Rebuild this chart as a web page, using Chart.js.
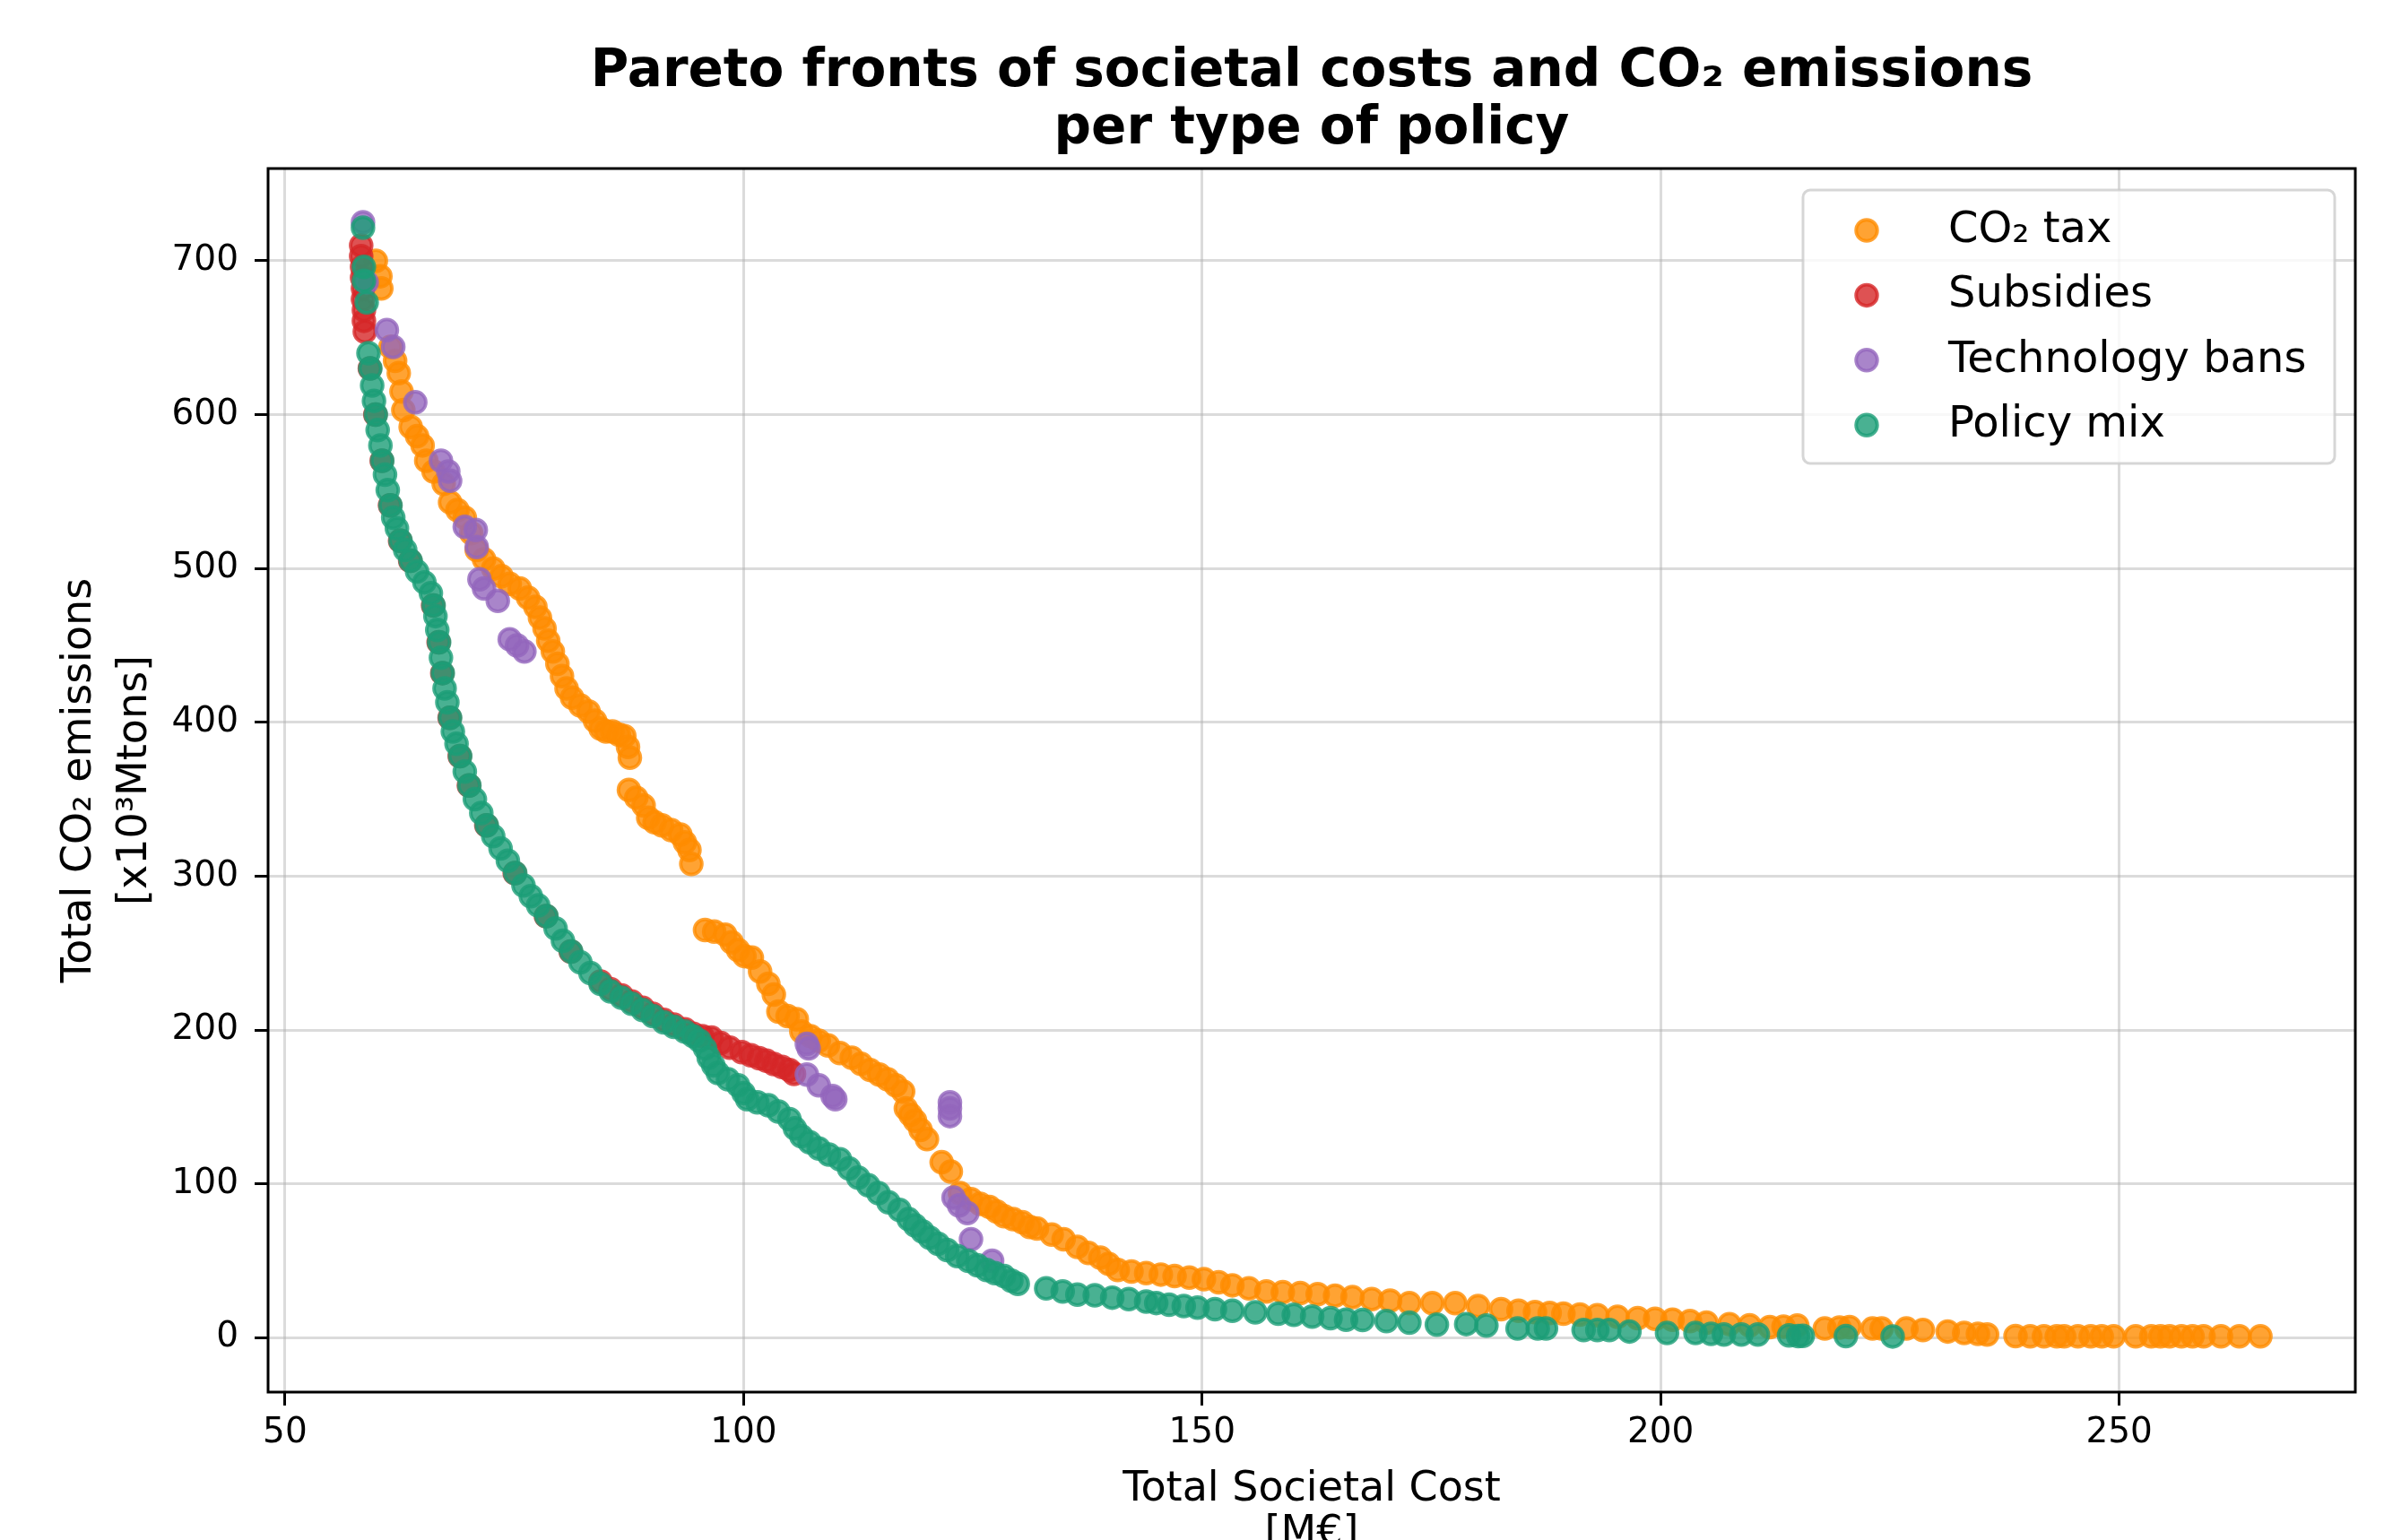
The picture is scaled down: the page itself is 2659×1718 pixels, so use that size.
<!DOCTYPE html>
<html>
<head>
<meta charset="utf-8">
<script src="https://cdn.jsdelivr.net/npm/chart.js@4/dist/chart.umd.min.js"></script>
<style>
html,body{margin:0;padding:0;background:#ffffff;overflow:hidden;}
canvas{display:block;}
</style>
</head>
<body>
<canvas id="chart" width="2659" height="1718"></canvas>
<script>
// ---------------- data ----------------
const seriesLabels = ['CO\u2082 tax', 'Subsidies', 'Technology bans', 'Policy mix'];

const co2TaxPoints = [
  [59.9,700],[60.4,690],[60.5,682],
  [61.5,644],[62.0,635],[62.4,627],[62.7,615],[62.9,603],[63.7,592],[64.4,586],[65.0,580],[65.4,570],
  [66.2,563],[67.3,555],[68.0,543],[68.8,538],[69.6,533],[70.3,523],[70.9,512],[71.7,506],[72.7,500],
  [73.6,495],[74.5,490],[75.6,487],[76.5,481],[77.3,475],[77.8,468],[78.3,461],[78.7,453],[79.2,446],
  [79.7,438],[80.2,430],[80.7,422],[81.3,416],[82.2,411],[83.1,407],[83.8,401],[84.4,396],[85.0,394],
  [85.7,394],[86.4,392],[87.0,391],[87.4,384],[87.6,377],[87.5,356],[88.3,351],[89.1,346],[89.6,338],
  [90.3,335],[91.1,333],[92.1,330],[93.1,327],[93.6,322],[94.1,317],[94.3,308],
  [95.8,265],[96.8,264],[98.0,262],[98.7,257],[99.4,252],[100.1,248],[100.9,247],[101.8,238],[102.7,230],
  [103.3,223],[103.8,212],[104.8,209],[105.8,207],[106.3,199],[107.3,196],[108.2,193],[109.2,190],
  [110.5,185],[111.8,182],[112.8,178],[113.8,174],[114.8,171],[115.7,168],[116.6,164],[117.4,160],
  [117.7,149],[118.2,145],[118.7,141],[119.3,135],[120.0,129],[121.6,114],[122.6,108],[123.6,94],
  [124.8,90],[125.8,87],[126.8,85],[127.6,82],[128.4,79],[129.4,77],[130.4,75],[131.2,72],[132.0,71],
  [133.6,67],[134.9,64],[136.4,59],[137.6,55],[138.9,52],[139.8,48],[140.8,44],[142.3,43],[143.9,42],
  [145.5,41],[147.0,40],[148.6,39],[150.2,38],[151.8,36],[153.3,34],[155.1,32],[157.0,30],[158.8,29.5],
  [160.7,29],[162.6,28.3],[164.5,27.3],[166.4,26.3],[168.5,25],[170.5,24],[172.6,22.4],[175.1,22.4],
  [177.6,22.4],[180.1,20.5],[182.6,18.5],[184.5,17.5],[186.3,16.6],[187.9,16],[189.4,15.6],[191.2,15],
  [193.1,14.6],[195.3,13.6],[197.5,12.7],[199.4,12.2],[201.3,11.7],[203.2,10.8],[205.0,9.8],[207.5,8.8],
  [209.7,8],[211.9,6.9],[213.4,7.2],[214.9,7.9],[217.9,5.9],[219.5,6.5],[220.6,6.9],[223.1,5.9],
  [224.1,5.9],[226.8,5.9],[228.6,5.0],[231.3,4.0],[233.1,3.0],[234.6,2.5],[235.6,2.0],[238.7,1.0],
  [240.3,0.9],[241.8,0.9],[243.2,0.9],[244.0,0.9],[245.5,0.9],[246.9,0.9],[248.1,0.9],[249.4,0.9],
  [251.8,0.9],[253.5,0.9],[254.5,0.9],[255.5,0.9],[256.8,0.9],[258.0,0.9],[259.2,0.9],[261.1,0.9],
  [263.1,0.9],[265.4,0.9]
];

const subsidiesPoints = [
  [58.3,710],[58.3,703],[58.4,696],[58.4,689],[58.5,682],[58.5,675],[58.6,668],[58.6,661],[58.7,654],
  [59.25,630],[59.85,600],[60.55,570],[61.45,541],[62.55,518],[63.65,505],[66.15,476],[66.75,452],
  [67.15,432],[67.95,403],[69.05,378],[70.05,359],[71.95,333],[75.05,302],[78.45,274],[81.15,251],
  [84.4,231.5],[85.5,226.5],[86.7,222.5],[87.8,218.5],[89.0,214.5],[90.1,210.5],[91.3,206.5],[92.4,203.5],
  [93.6,200.5],[94.5,197.5],[95.5,196],
  [96.5,195],[97.5,191.5],[98.5,188.5],[99.8,185.6],[100.8,183.5],[101.7,181.7],[102.5,180],
  [103.3,177.8],[104.2,176],[105.0,174],[105.5,171.5]
];

const techBanPoints = [
  [58.5,725],[58.9,686],[61.1,655],[61.8,644],[64.2,608],[67.0,570],[67.8,563],[68.0,557],[69.6,527],
  [70.8,525],[70.9,514],[71.2,493],[71.7,487],[73.2,479],[74.5,454],[75.3,450],[76.1,446],
  [106.9,191],[107.1,188],[106.9,171],[108.2,164],[109.7,157],[110.0,155],
  [122.5,153],[122.5,149],[122.5,144],[122.9,91],[123.5,86],[124.4,81],[124.8,64],[127.1,50]
];

const policyMixPoints = [
  [58.5,721.5],[58.6,696],[58.6,687],[58.9,673],
  [59.1,640],[59.3,630],[59.5,619],[59.7,609],[59.9,600],[60.1,590],[60.4,580],[60.6,570],[60.9,561],
  [61.2,551],[61.5,541],[61.8,533],[62.2,526],[62.6,518],[63.1,512],[63.7,505],[64.4,498],[65.2,491],
  [65.9,484],[66.2,476],[66.4,469],[66.6,460],[66.8,452],[67.0,442],[67.2,432],[67.4,422],[67.7,413],
  [68.0,403],[68.3,394],[68.7,386],[69.1,378],[69.6,368],[70.1,359],[70.7,350],[71.4,341],[72.0,333],
  [72.7,326],[73.5,318],[74.3,310],[75.1,302],[76.0,294],[76.8,287],[77.6,281],[78.5,274],[79.5,266],
  [80.3,258],[81.2,251],[82.2,244],[83.3,237],[84.4,230],[85.5,225],[86.7,221],[87.8,217],[89.0,213],
  [90.1,209],[91.3,205],[92.4,202],[93.6,199],[94.5,196],[95.2,193],[95.8,188],[96.2,182],[96.7,177],
  [97.2,172],[98.3,168],[99.4,164],[100.0,159],[100.4,155],[101.5,153],[102.7,151],[103.8,147],
  [105.0,142],[105.6,136],[106.3,131],[107.2,127],[108.2,123],[109.3,119],[110.5,116],[111.5,110],
  [112.5,104],[113.6,99],[114.7,94],[115.8,88],[117.0,83],[118.0,77],[118.7,73],[119.5,69],[120.3,65],
  [121.2,61],[122.2,57],[123.3,53],[124.5,50],[125.5,47],[126.5,44],[127.4,42],[128.4,40],[129.2,37],
  [129.9,35],
  [133.0,32],[134.8,30],[136.4,28],[138.3,27.5],[140.2,26],[142.0,25],[143.9,23.4],[145.0,22.5],
  [146.4,21.4],[148.0,20.5],[149.5,19.5],[151.4,18.5],[153.3,17.5],[155.8,16.5],[158.3,15.6],[160.0,14.8],
  [162.0,13.7],[164.0,12.7],[165.7,11.7],[167.5,11.5],[170.1,10.8],[172.6,9.8],[175.6,8.5],[178.8,8.8],
  [181.0,7.9],[184.4,5.9],[186.6,5.9],[187.5,6.0],[191.6,5.0],[193.1,5.0],[194.4,5.0],[196.6,4.0],
  [200.7,3.0],[203.8,3.0],[205.5,2.5],[206.9,2.0],[208.8,2.0],[210.6,2.0],[214.0,1.5],[215.0,1.0],
  [215.5,1.2],[220.2,1.0],[225.3,0.8]
];

const xTicks = [50, 100, 150, 200, 250];
const yTicks = [0, 100, 200, 300, 400, 500, 600, 700];

const titleLines = ['Pareto fronts of societal costs and CO\u2082 emissions', 'per type of policy'];
const xTitleLines = ['Total Societal Cost', '[M\u20ac]'];
const yTitleLines = ['Total CO\u2082 emissions', '[x10\u00b3Mtons]'];

// ---------------- styling ----------------
const FONT = 'DejaVu Sans';
const seriesColors = [[255,140,0],[214,39,40],[148,103,189],[27,158,119]];
const rgba = (c, a) => `rgba(${c[0]},${c[1]},${c[2]},${a})`;
const MARK_R = 11.8, MARK_BW = 3.9;

const legendLayout = {left: 2011, top: 212, right: 2604, bottom: 517, radius: 8,
  markerX: 2082, firstRowY: 257, rowGap: 72.4, textX: 2173, textDy: 13, fontSize: 48};

function makeSet(idx, pts, order) {
  const c = seriesColors[idx];
  return {
    label: seriesLabels[idx],
    data: pts.map(p => ({x: p[0], y: p[1]})),
    backgroundColor: rgba(c, 0.8), borderColor: rgba(c, 0.8),
    pointBackgroundColor: rgba(c, 0.8), pointBorderColor: rgba(c, 0.8),
    pointRadius: MARK_R, pointHoverRadius: MARK_R, pointBorderWidth: MARK_BW, pointHoverBorderWidth: MARK_BW,
    showLine: false, order: order
  };
}

const framePlugin = {
  id: 'frame',
  afterDraw(chart) {
    const {ctx, chartArea: a} = chart;
    ctx.save();
    ctx.strokeStyle = '#000'; ctx.lineWidth = 3;
    ctx.strokeRect(a.left, a.top, a.right - a.left, a.bottom - a.top);
    ctx.restore();
  }
};

const legendPlugin = {
  id: 'boxLegend',
  afterDraw(chart) {
    const ctx = chart.ctx, L = legendLayout;
    ctx.save();
    ctx.beginPath();
    ctx.roundRect(L.left, L.top, L.right - L.left, L.bottom - L.top, L.radius);
    ctx.fillStyle = 'rgba(255,255,255,0.8)'; ctx.fill();
    ctx.lineWidth = 3; ctx.strokeStyle = 'rgba(204,204,204,0.8)'; ctx.stroke();
    chart.data.datasets.forEach((ds, i) => {
      const y = L.firstRowY + i * L.rowGap;
      ctx.beginPath(); ctx.arc(L.markerX, y, MARK_R, 0, Math.PI * 2);
      ctx.fillStyle = ds.pointBackgroundColor; ctx.fill();
      ctx.lineWidth = MARK_BW; ctx.strokeStyle = ds.pointBorderColor; ctx.stroke();
      ctx.fillStyle = '#000'; ctx.font = `${L.fontSize}px "${FONT}"`;
      ctx.textAlign = 'left'; ctx.textBaseline = 'alphabetic';
      ctx.fillText(ds.label, L.textX, y + L.textDy);
    });
    ctx.restore();
  }
};

Chart.defaults.font.family = FONT;
Chart.defaults.color = '#000';

new Chart(document.getElementById('chart'), {
  type: 'scatter',
  data: {
    datasets: [
      makeSet(0, co2TaxPoints, 4),
      makeSet(1, subsidiesPoints, 3),
      makeSet(2, techBanPoints, 2),
      makeSet(3, policyMixPoints, 1)
    ]
  },
  options: {
    responsive: false,
    animation: false,
    devicePixelRatio: 1,
    layout: {padding: {left: 0, right: 32, top: 0, bottom: 0}},
    plugins: {
      legend: {display: false},
      tooltip: {enabled: false},
      title: {
        display: true, text: titleLines, fullSize: false, color: '#000',
        font: {family: FONT, size: 58, weight: 'bold', lineHeight: '64px'},
        padding: {top: 49, bottom: 11}
      }
    },
    scales: {
      x: {
        type: 'linear', position: 'bottom', min: 48.15, max: 275.75, z: 1,
        afterBuildTicks: s => { s.ticks = xTicks.map(v => ({value: v})); },
        afterFit: s => { s.height = 165; },
        ticks: {font: {family: FONT, size: 39}, color: '#000', padding: 7, maxRotation: 0, autoSkip: false,
                callback: v => String(v)},
        grid: {color: 'rgba(176,176,176,0.45)', lineWidth: 3, drawTicks: true, tickLength: 15,
               tickColor: '#000', tickWidth: 3},
        border: {display: false},
        title: {display: true, text: xTitleLines, color: '#000',
                font: {family: FONT, size: 46, lineHeight: '49px'}, padding: {top: 0, bottom: -17.5}}
      },
      y: {
        type: 'linear', position: 'left', min: -35.4, max: 760, z: 1,
        afterBuildTicks: s => { s.ticks = yTicks.map(v => ({value: v})); },
        afterFit: s => { s.width = 299; },
        ticks: {font: {family: FONT, size: 39}, color: '#000', padding: 18, autoSkip: false,
                callback: v => String(v)},
        grid: {color: 'rgba(176,176,176,0.45)', lineWidth: 3, drawTicks: true, tickLength: 15,
               tickColor: '#000', tickWidth: 3},
        border: {display: false},
        title: {display: true, text: yTitleLines, color: '#000',
                font: {family: FONT, size: 46, lineHeight: '62px'}, padding: {top: 58, bottom: 0}}
      }
    }
  },
  plugins: [framePlugin, legendPlugin]
});
</script>
</body>
</html>
